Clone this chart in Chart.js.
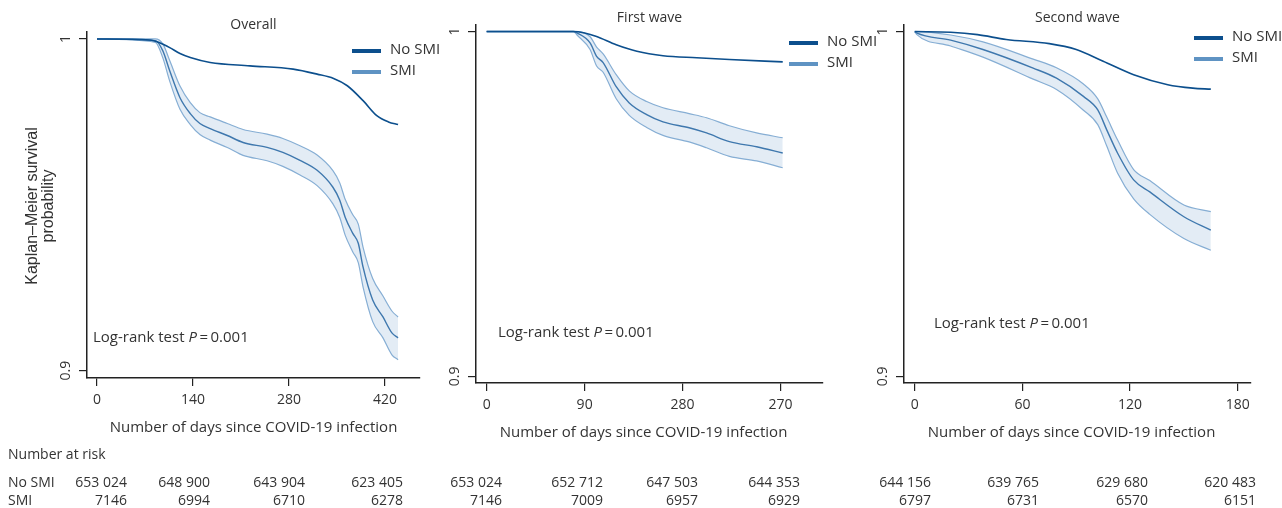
<!DOCTYPE html>
<html>
<head>
<meta charset="utf-8">
<title>Kaplan–Meier survival by SMI</title>
<script src="https://cdn.jsdelivr.net/npm/chart.js"></script>
<style>
  html, body { margin: 0; padding: 0; background: #fff; }
  body { width: 1282px; height: 508px; position: relative; overflow: hidden; }
  canvas { position: absolute; top: 0; }
</style>
</head>
<body>
<canvas id="overallChart" style="left:0px" width="440" height="508"></canvas>
<canvas id="firstWaveChart" style="left:440px" width="445" height="508"></canvas>
<canvas id="secondWaveChart" style="left:860px" width="422" height="508"></canvas>
<script>
// ---- data ----
const yTicks = [0.9, 1];
const yTickLabels = ["0.9", "1"];

// Overall
const overallTicks = [0, 140, 280, 420];
const overallTickLabels = ["0", "140", "280", "420"];
const overallNoSmiDays = [0, 77, 92, 106, 121, 136, 165, 223, 286, 321, 345, 365, 388, 408, 425, 439];
const overallNoSmi = [1, 0.9997, 0.9988, 0.9974, 0.9956, 0.9944, 0.9929, 0.9919, 0.9909, 0.9894, 0.9881, 0.9859, 0.9814, 0.9769, 0.9750, 0.9742];
const overallSmiDays = [0, 85, 96, 106, 121, 136, 150, 165, 190, 213, 248, 271, 296, 321, 344, 354, 362, 373, 381, 388, 402, 417, 430, 439];
const overallSmi = [1, 0.9995, 0.9964, 0.9904, 0.9823, 0.9775, 0.9745, 0.9730, 0.9709, 0.9688, 0.9673, 0.9658, 0.9634, 0.9604, 0.9553, 0.9514, 0.9462, 0.9414, 0.9384, 0.9312, 0.9213, 0.9162, 0.9114, 0.9099];
const overallSmiUpper = [1, 1, 0.9985, 0.9935, 0.9858, 0.9808, 0.9778, 0.9765, 0.9745, 0.9727, 0.9713, 0.9700, 0.9678, 0.9650, 0.9603, 0.9566, 0.9516, 0.9470, 0.9442, 0.9372, 0.9278, 0.9225, 0.9180, 0.9162];
const overallSmiLower = [1, 0.9990, 0.9943, 0.9873, 0.9788, 0.9742, 0.9712, 0.9695, 0.9673, 0.9649, 0.9633, 0.9616, 0.9590, 0.9558, 0.9503, 0.9462, 0.9408, 0.9358, 0.9326, 0.9252, 0.9148, 0.9099, 0.9048, 0.9033];
const overallRiskNoSmi = ["653 024", "648 900", "643 904", "623 405"];
const overallRiskSmi = ["7146", "6994", "6710", "6278"];

// First wave
const firstWaveTicks = [0, 90, 180, 270];
const firstWaveTickLabels = ["0", "90", "280", "270"];
const firstWaveNoSmiDays = [0, 79, 90, 101, 119, 138, 162, 193, 223, 272];
const firstWaveNoSmi = [1, 1, 0.9996, 0.9986, 0.9962, 0.9943, 0.9930, 0.9924, 0.9919, 0.9912];
const firstWaveSmiDays = [0, 80, 83, 95, 101, 107, 119, 131, 147, 162, 186, 202, 223, 248, 272];
const firstWaveSmi = [1, 1, 0.9996, 0.9967, 0.9928, 0.9910, 0.9840, 0.9793, 0.9759, 0.9738, 0.9721, 0.9706, 0.9681, 0.9666, 0.9648];
const firstWaveSmiUpper = [1, 1, 1, 0.9985, 0.9955, 0.9935, 0.9875, 0.9828, 0.9797, 0.9779, 0.9762, 0.9750, 0.9727, 0.9706, 0.9692];
const firstWaveSmiLower = [1, 1, 0.9990, 0.9948, 0.9900, 0.9882, 0.9805, 0.9757, 0.9722, 0.9699, 0.9680, 0.9663, 0.9638, 0.9625, 0.9605];
const firstWaveRiskNoSmi = ["653 024", "652 712", "647 503", "644 353"];
const firstWaveRiskSmi = ["7146", "7009", "6957", "6929"];

// Second wave
const secondWaveTicks = [0, 60, 120, 180];
const secondWaveTickLabels = ["0", "60", "120", "180"];
const secondWaveNoSmiDays = [0, 20, 35, 51, 75, 90, 105, 122, 141, 155, 165];
const secondWaveNoSmi = [1, 0.9998, 0.9991, 0.9977, 0.9965, 0.9948, 0.9914, 0.9875, 0.9846, 0.9836, 0.9833];
const secondWaveSmiDays = [0, 1, 20, 38, 66, 79, 94, 102, 107, 113, 122, 131, 150, 165];
const secondWaveSmi = [1, 0.9996, 0.9975, 0.9948, 0.9894, 0.9865, 0.9812, 0.9773, 0.9715, 0.9648, 0.9570, 0.9535, 0.9463, 0.9424];
const secondWaveSmiUpper = [1, 1, 0.9990, 0.9970, 0.9920, 0.9895, 0.9848, 0.9805, 0.9752, 0.9686, 0.9600, 0.9568, 0.9497, 0.9478];
const secondWaveSmiLower = [1, 0.9992, 0.9958, 0.9926, 0.9862, 0.9832, 0.9772, 0.9730, 0.9668, 0.9590, 0.9515, 0.9470, 0.9400, 0.9366];
const secondWaveRiskNoSmi = ["644 156", "639 765", "629 680", "620 483"];
const secondWaveRiskSmi = ["6797", "6731", "6570", "6151"];

// ---- styling ----
const textColor = "#333333";
const axisColor = "#222222";
const noSmiColor = "#0c4f8d";
const smiColor = "#3f78ae";
const smiLegendColor = "#5f93c3";
const bandEdgeColor = "#86aed4";
const bandFill = "rgba(200, 218, 236, 0.5)";
const sans = '"Open Sans"';

const toPoints = (days, values) => days.map((d, i) => ({ x: d, y: values[i] }));

const textPlugin = (cfg) => ({
  id: "panelText",
  afterDraw(chart) {
    const { ctx, chartArea, scales } = chart;
    const off = cfg.canvasLeft;
    ctx.save();
    ctx.fillStyle = textColor;

    // panel title
    ctx.font = `14px ${sans}`;
    ctx.textAlign = "center";
    ctx.textBaseline = "middle";
    ctx.fillText(cfg.title, (chartArea.left + chartArea.right) / 2, cfg.titleY);

    // rotated y tick labels
    yTicks.forEach((v, i) => {
      ctx.save();
      ctx.translate(chartArea.left - 21, scales.y.getPixelForValue(v));
      ctx.rotate(-Math.PI / 2);
      ctx.fillText(yTickLabels[i], 0, 0);
      ctx.restore();
    });

    // x axis title
    ctx.font = `15px ${sans}`;
    ctx.fillText("Number of days since COVID-19 infection", (chartArea.left + chartArea.right) / 2 + cfg.xTitleShift, chartArea.bottom + 50);

    // legend
    const lx = cfg.legendX - off;
    [["No SMI", noSmiColor, cfg.legendY], ["SMI", smiLegendColor, cfg.legendY + 21]].forEach(([label, color, y]) => {
      ctx.strokeStyle = color;
      ctx.lineWidth = 4;
      ctx.beginPath();
      ctx.moveTo(lx, y);
      ctx.lineTo(lx + 29, y);
      ctx.stroke();
      ctx.textAlign = "left";
      ctx.fillText(label, lx + 38, y - 1);
    });

    // log-rank annotation
    let tx = cfg.logRankX - off;
    const ty = cfg.logRankY;
    ctx.textAlign = "left";
    ctx.font = `15px ${sans}`;
    ctx.fillText("Log-rank test ", tx, ty);
    tx += ctx.measureText("Log-rank test ").width;
    ctx.font = `italic 15px ${sans}`;
    ctx.fillText("P", tx, ty);
    tx += ctx.measureText("P").width;
    ctx.font = `15px ${sans}`;
    ctx.fillText("\u2009=\u20090.001", tx, ty);

    // number at risk table
    ctx.font = `14px ${sans}`;
    ctx.textAlign = "right";
    cfg.riskRight.forEach((x, i) => {
      ctx.fillText(cfg.riskNoSmi[i], x - off, 483);
      ctx.fillText(cfg.riskSmi[i], x - off, 501);
    });

    if (cfg.first) {
      ctx.textAlign = "left";
      ctx.fillText("Number at risk", 8, 455);
      ctx.fillText("No SMI", 8, 483);
      ctx.fillText("SMI", 8, 501);

      ctx.font = '16px "Liberation Sans"';
      ctx.textAlign = "center";
      ctx.save();
      ctx.translate(33, 206);
      ctx.rotate(-Math.PI / 2);
      ctx.fillText("Kaplan\u2013Meier survival", 0, 0);
      ctx.fillText("probability", 0, 16);
      ctx.restore();
    }
    ctx.restore();
  },
});

const makePanel = (cfg) => {
  const ctx = document.getElementById(cfg.id).getContext("2d");
  return new Chart(ctx, {
    type: "line",
    data: {
      datasets: [
        {
          label: "No SMI",
          data: toPoints(cfg.noSmiDays, cfg.noSmi),
          borderColor: noSmiColor,
          borderWidth: 1.6,
          order: 0,
        },
        {
          label: "SMI",
          data: toPoints(cfg.smiDays, cfg.smi),
          borderColor: smiColor,
          borderWidth: 1.4,
          order: 1,
        },
        {
          label: "SMI upper",
          data: toPoints(cfg.smiDays, cfg.smiUpper),
          borderColor: bandEdgeColor,
          borderWidth: 1.2,
          backgroundColor: bandFill,
          fill: "+1",
          order: 3,
        },
        {
          label: "SMI lower",
          data: toPoints(cfg.smiDays, cfg.smiLower),
          borderColor: bandEdgeColor,
          borderWidth: 1.2,
          order: 2,
        },
      ],
    },
    options: {
      responsive: false,
      animation: false,
      parsing: false,
      normalized: true,
      elements: {
        point: { radius: 0 },
        line: { cubicInterpolationMode: "monotone", fill: false },
      },
      layout: { padding: { left: 0, right: cfg.padRight, top: cfg.padTop, bottom: 0 } },
      plugins: { legend: { display: false }, tooltip: { enabled: false }, title: { display: false } },
      scales: {
        x: {
          type: "linear",
          min: cfg.xMin,
          max: cfg.xMax,
          afterBuildTicks: (s) => { s.ticks = cfg.ticks.map((v) => ({ value: v })); },
          afterFit: (s) => { s.height = cfg.xHeight; },
          ticks: {
            autoSkip: false,
            maxRotation: 0,
            padding: 6,
            color: textColor,
            font: { family: "Open Sans", size: 14 },
            callback: (value, index) => cfg.tickLabels[index],
          },
          grid: { drawOnChartArea: false, drawTicks: true, tickLength: 8, color: axisColor, lineWidth: 1.2 },
          border: { display: true, color: axisColor, width: 1.5 },
        },
        y: {
          type: "linear",
          min: cfg.yMin,
          max: cfg.yMax,
          afterBuildTicks: (s) => { s.ticks = yTicks.map((v) => ({ value: v })); },
          afterFit: (s) => { s.width = cfg.yWidth; },
          ticks: { display: false },
          grid: { drawOnChartArea: false, drawTicks: true, tickLength: 8, color: axisColor, lineWidth: 1.2 },
          border: { display: true, color: axisColor, width: 1.5 },
        },
      },
    },
    plugins: [textPlugin(cfg)],
  });
};

makePanel({
  id: "overallChart", first: true, canvasLeft: 0, title: "Overall", titleY: 25,
  noSmiDays: overallNoSmiDays, noSmi: overallNoSmi,
  smiDays: overallSmiDays, smi: overallSmi, smiUpper: overallSmiUpper, smiLower: overallSmiLower,
  ticks: overallTicks, tickLabels: overallTickLabels,
  riskNoSmi: overallRiskNoSmi, riskSmi: overallRiskSmi, riskRight: [127, 210, 305, 403],
  xMin: -14.6, xMax: 471, yMin: 0.8978, yMax: 1.0021,
  yWidth: 87, padRight: 20, padTop: 32, xHeight: 130,
  legendX: 352, legendY: 51, logRankX: 93, logRankY: 338, xTitleShift: 0,
});

makePanel({
  id: "firstWaveChart", canvasLeft: 440, title: "First wave", titleY: 18,
  noSmiDays: firstWaveNoSmiDays, noSmi: firstWaveNoSmi,
  smiDays: firstWaveSmiDays, smi: firstWaveSmi, smiUpper: firstWaveSmiUpper, smiLower: firstWaveSmiLower,
  ticks: firstWaveTicks, tickLabels: firstWaveTickLabels,
  riskNoSmi: firstWaveRiskNoSmi, riskSmi: firstWaveRiskSmi, riskRight: [502, 603, 698, 800],
  xMin: -9.8, xMax: 309, yMin: 0.8981, yMax: 1.0019,
  yWidth: 36, padRight: 62, padTop: 25, xHeight: 125,
  legendX: 789, legendY: 43, logRankX: 498, logRankY: 333, xTitleShift: -6,
});

makePanel({
  id: "secondWaveChart", canvasLeft: 860, title: "Second wave", titleY: 18,
  noSmiDays: secondWaveNoSmiDays, noSmi: secondWaveNoSmi,
  smiDays: secondWaveSmiDays, smi: secondWaveSmi, smiUpper: secondWaveSmiUpper, smiLower: secondWaveSmiLower,
  ticks: secondWaveTicks, tickLabels: secondWaveTickLabels,
  riskNoSmi: secondWaveRiskNoSmi, riskSmi: secondWaveRiskSmi, riskRight: [931, 1039, 1148, 1256],
  xMin: -6, xMax: 187.4, yMin: 0.8981, yMax: 1.0019,
  yWidth: 44, padRight: 31, padTop: 25, xHeight: 125,
  legendX: 1194, legendY: 38, logRankX: 934, logRankY: 324, xTitleShift: -6,
});
</script>
</body>
</html>
